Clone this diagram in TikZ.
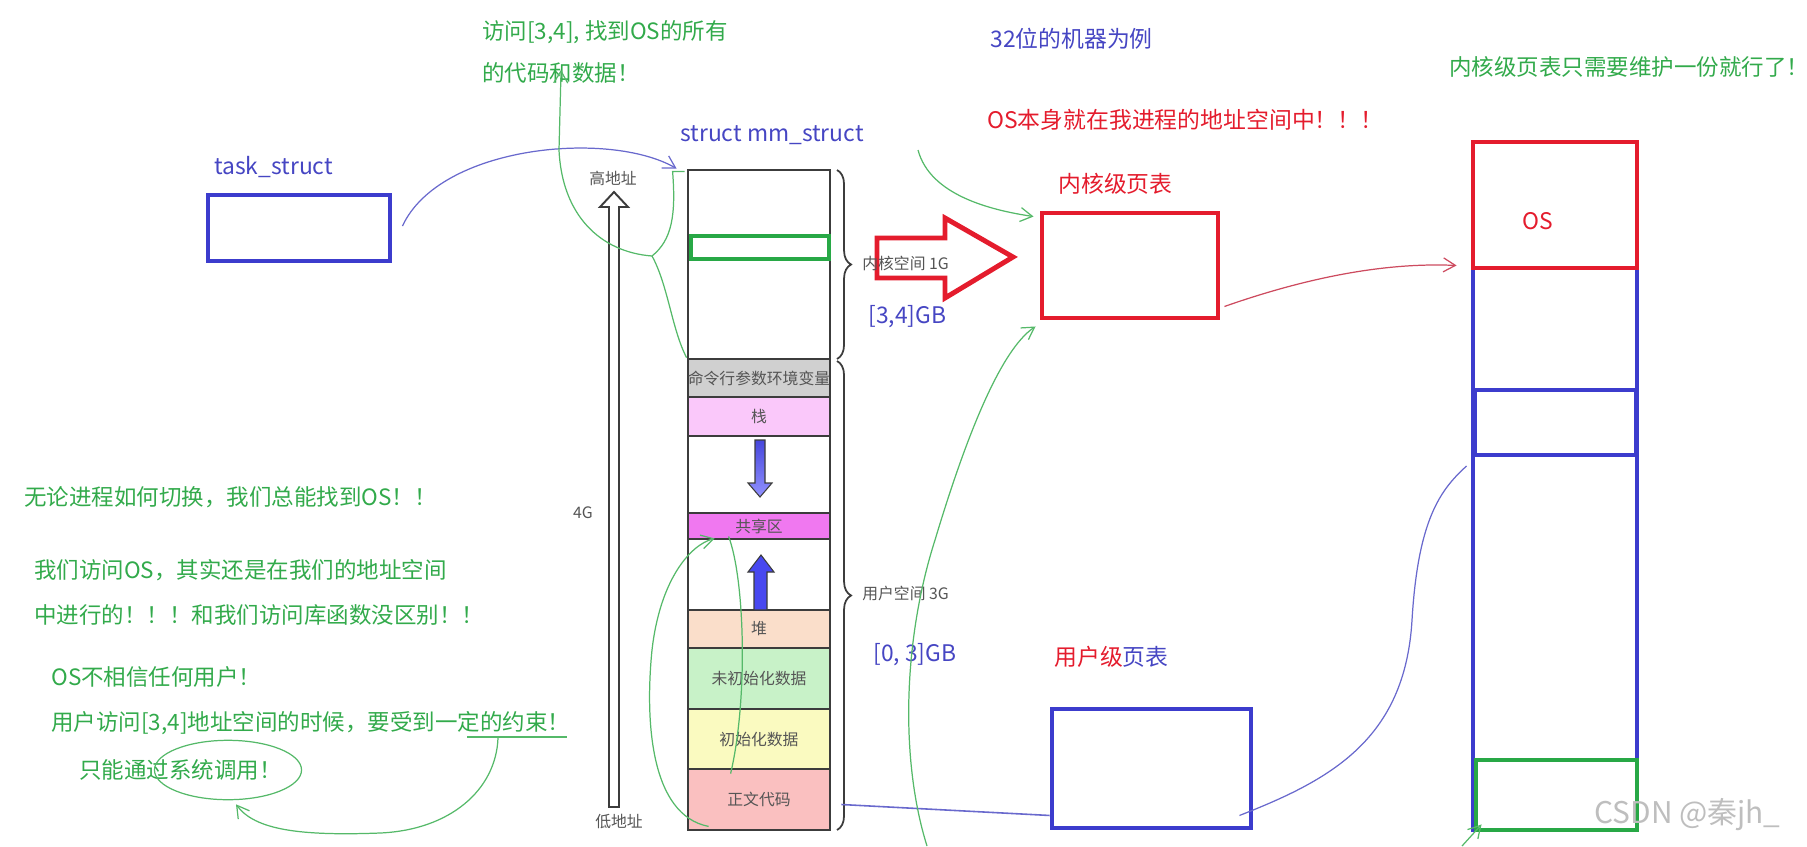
\documentclass[tikz,border=0pt]{standalone}
\usepackage{fontspec}
\setmainfont{Noto Sans CJK SC}
\usetikzlibrary{arrows.meta,calc,fit,shapes.geometric,decorations.pathreplacing}

\definecolor{penblue}{RGB}{60,60,205}
\definecolor{penred}{RGB}{228,28,45}
\definecolor{pengreen}{RGB}{40,168,70}
\definecolor{inkgreen}{RGB}{85,185,105}
\definecolor{inkblue}{RGB}{105,105,205}
\definecolor{inkred}{RGB}{205,75,95}
\definecolor{segline}{RGB}{60,60,60}
\definecolor{txtblue}{RGB}{70,70,195}
\definecolor{txtgreen}{RGB}{50,170,75}
\definecolor{txtgray}{RGB}{85,85,85}
\definecolor{wmgray}{RGB}{190,190,190}
\definecolor{argsfill}{RGB}{208,208,208}
\definecolor{stackfill}{RGB}{250,200,250}
\definecolor{sharedfill}{RGB}{240,120,240}
\definecolor{heapfill}{RGB}{250,222,202}
\definecolor{bssfill}{RGB}{200,242,200}
\definecolor{datafill}{RGB}{250,250,192}
\definecolor{codefill}{RGB}{250,192,192}
\definecolor{arrowtop}{RGB}{70,70,220}
\definecolor{arrowbot}{RGB}{145,145,255}
\definecolor{arrowup}{RGB}{72,72,240}

\tikzset{
  box/.style={draw,line width=2.8pt,inner sep=0pt},
  seg/.style={draw=segline,line width=1.6pt,inner sep=0pt},
  ink/.style={line width=0.7pt},
  note/.style={anchor=west,inner sep=0pt,text=txtgreen,font=\fontsize{12.8pt}{15pt}\selectfont},
  lab/.style={inner sep=0pt,font=\fontsize{13pt}{15pt}\selectfont},
  graylab/.style={inner sep=0pt,text=txtgray,font=\fontsize{9pt}{11pt}\selectfont},
}

\begin{document}
\begin{tikzpicture}[x=0.02cm,y=-0.02cm,>={Straight Barb[length=2.4mm,width=2.8mm]}]
\useasboundingbox (0,0) rectangle (1807,846);

\node[note] (n1a) at (482,32) {访问[3,4], 找到OS的所有};
\node[note] (n1b) at (482,73) {的代码和数据！};
\node[lab,anchor=west,text=txtblue] (bits) at (990,39) {32位的机器为例};
\node[lab,anchor=west,text=penred] (osin) at (987,120) {OS本身就在我进程的地址空间中！！！};
\node[note] (onlyone) at (1449,67) {内核级页表只需要维护一份就行了！};

\node[note] (r1) at (24,497) {无论进程如何切换，我们总能找到OS！！};
\node[note] (r2) at (34,570) {我们访问OS，其实还是在我们的地址空间};
\node[note] (r3) at (34,615) {中进行的！！！和我们访问库函数没区别！！};
\node[note] (r4) at (51,677) {OS不相信任何用户！};
\node[note] (r5) at (51,723) {用户访问[3,4]地址空间的时候，要受到一定的约束！};
\node[note] (r6) at (79,770) {只能通过系统调用！};

% task_struct
\node[lab,anchor=west,text=txtblue] (tasklab) at (214,167) {task\_struct};
\node[box,draw=penblue,fit={(208,195) (390,261)}] (task) {};

% mm_struct
\node[lab,anchor=west,text=txtblue] (mmlab) at (680,135) {struct mm\_struct};
\node[seg,fill=white,fit={(688,170) (830,359)}] (kern) {};
\node[seg,fill=argsfill,fit={(688,359) (830,397)},label={[graylab]center:命令行参数环境变量}] (args) {};
\node[seg,fill=stackfill,fit={(688,397) (830,436)},label={[graylab]center:栈}] (stack) {};
\node[seg,fill=white,fit={(688,436) (830,513)}] (gapa) {};
\node[seg,fill=sharedfill,fit={(688,513) (830,539)},label={[graylab]center:共享区}] (shared) {};
\node[seg,fill=white,fit={(688,539) (830,610)}] (gapb) {};
\node[seg,fill=heapfill,fit={(688,610) (830,648)},label={[graylab]center:堆}] (heap) {};
\node[seg,fill=bssfill,fit={(688,648) (830,709)},label={[graylab]center:未初始化数据}] (bss) {};
\node[seg,fill=datafill,fit={(688,709) (830,769)},label={[graylab]center:初始化数据}] (data) {};
\node[seg,fill=codefill,fit={(688,769) (830,830)},label={[graylab]center:正文代码}] (txt) {};
\node[box,draw=pengreen,fit={(691,236) (829,259)}] (kos) {};

\draw[segline,line width=0.6pt,top color=arrowtop,bottom color=arrowbot] (755,440) -- (765,440) -- (765,483) -- (772,483) -- (760,497) -- (748,483) -- (755,483) -- cycle;
\draw[segline,line width=0.6pt,fill=arrowup] (754,610) -- (754,572) -- (748,572) -- (761,555) -- (774,572) -- (767,572) -- (767,610) -- cycle;

\draw[segline,line width=1.1pt,fill=white] (609,807) -- (609,207) -- (600,207) -- (614,192) -- (628,207) -- (619,207) -- (619,807) -- cycle;
\node[graylab] (hi) at (613,178) {高地址};
\node[graylab] (lo) at (619,822) {低地址};
\node[graylab] (four) at (583,513) {4G};

\draw[segline,line width=1pt,decorate,decoration={brace,amplitude=8pt}] (837,170) -- (837,359);
\draw[segline,line width=1pt,decorate,decoration={brace,amplitude=8pt}] (837,361) -- (837,830);

\draw[penred,line width=2.8pt] (877,238) -- (945,238) -- (945,218) -- (1013,257) -- (945,298) -- (945,278) -- (877,278) -- cycle;
\node[graylab,anchor=west] (kspace) at (862,263) {内核空间 1G};
\node[lab,anchor=west,text=txtblue] (krange) at (868,317) {[3,4]GB};
\node[graylab,anchor=west] (uspace) at (862,593) {用户空间 3G};
\node[lab,anchor=west,text=txtblue] (urange) at (873,655) {[0, 3]GB};

% page tables
\node[lab,anchor=west,text=penred] (klab) at (1058,184) {内核级页表};
\node[box,draw=penred,fit={(1042,213) (1218,318)}] (ktable) {};
\node[lab,anchor=west] (ulab) at (1054,657) {\textcolor{penred}{用户级}\textcolor{txtblue}{页表}};
\node[box,draw=penblue,fit={(1052,709) (1251,828)}] (utable) {};

% physical memory
\node[box,draw=penblue,fit={(1473,142) (1637,830)}] (phys) {};
\node[box,draw=penblue,fit={(1475,390) (1636,455)}] (pblock) {};
\node[box,draw=penred,fit={(1473,142) (1637,268)}] (os) {};
\node[lab,text=penred] (oslab) at (1538,221) {OS};
\node[box,draw=pengreen,fit={(1476,760) (1637,830)}] (pcode) {};

\node[anchor=west,inner sep=0pt,text=wmgray,font=\fontsize{17pt}{20pt}\selectfont] (mark) at (1594,815) {CSDN @秦jh\_};

% connectors
\draw[inkblue,ink,->] ($(task.east)+(10,-2)$) .. controls (440,145) and (610,130) .. ($(kern.north west)+(-10,0)$);
\draw[inkred,ink,->] ($(ktable.south east)+(4,-14)$) .. controls (1300,280) and (1380,262) .. ($(os.south west)+(-14,-5)$);
\draw[inkblue,ink] ($(utable.south east)+(-14,-15)$) .. controls (1330,780) and (1405,740) .. (1412,620) .. controls (1418,520) and (1440,490) .. ($(phys.west)+(-4,-20)$);
\draw[inkblue,line width=0.9pt] ($(txt.east)+(10,5)$) -- ($(utable.south west)+(0,-15)$);

\coordinate (kink) at (652,256);
\draw[inkgreen,ink,->] ($(kern.north west)+(-2,3)$) -- ++(-12,0) .. controls (676,215) and (672,240) .. (kink) .. controls (600,252) and (562,215) .. (559,150) -- ($(n1b.south)+(0,-14)$);
\draw[inkgreen,ink] (kink) .. controls (668,285) and (672,330) .. (args.north west);

\coordinate (gtop) at (918,150);
\draw[inkgreen,ink,->] (gtop) .. controls (930,195) and (990,210) .. ($(ktable.north west)+(-6,6)$);
\coordinate (gbot) at (927,846);
\draw[inkgreen,ink,->] (gbot) .. controls (900,760) and (903,640) .. (935,540) .. controls (965,440) and (1000,350) .. ($(ktable.south west)+(-4,6)$);

\draw[inkgreen,ink,->] ($(txt.south west)+(22,-5)$) .. controls (650,815) and (645,720) .. (652,650) .. controls (660,580) and (690,545) .. ($(shared.south west)+(28,-2)$);
\draw[inkgreen,ink] ($(shared.south west)+(42,-4)$) .. controls (745,580) and (748,700) .. ($(txt.north west)+(44,6)$);

\node[ellipse,draw=inkgreen,ink,inner sep=0pt,fit={(176,749) (280,791)}] (sysc) {};
\draw[inkgreen,ink] (467,737) -- (567,737);
\coordinate (ul) at (498,738);
\draw[inkgreen,ink,->] (ul) .. controls (496,790) and (450,830) .. (380,833) .. controls (300,836) and (255,830) .. ($(sysc.south)+(8,4)$);

\draw[inkgreen,ink,->] (1462,846) -- ($(pcode.south west)+(8,-8)$);
\end{tikzpicture}
\end{document}
